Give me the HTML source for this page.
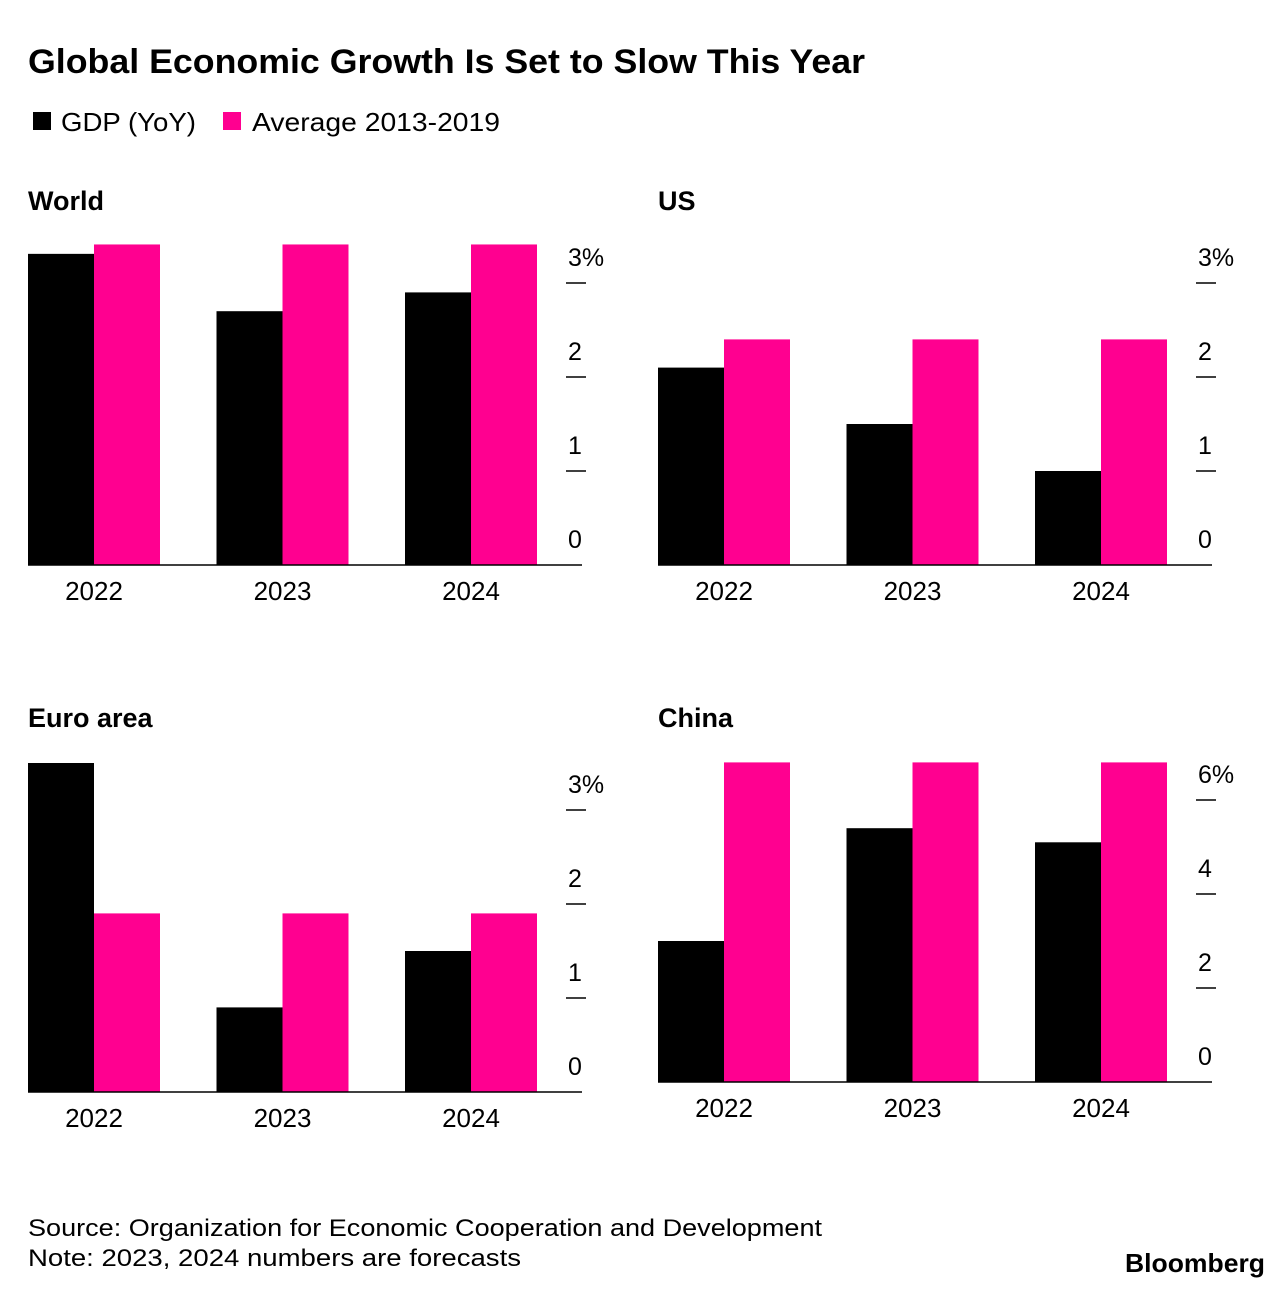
<!DOCTYPE html>
<html><head><meta charset="utf-8">
<style>
body{margin:0;background:#fff;}
svg{display:block;font-family:"Liberation Sans",sans-serif;}
</style></head>
<body>
<svg id="chart" width="1288" height="1296" viewBox="0 0 1288 1296">
<text x="28" y="73" font-size="34" font-weight="bold" fill="#000" textLength="837" lengthAdjust="spacingAndGlyphs">Global Economic Growth Is Set to Slow This Year</text>
<rect x="33" y="112" width="18" height="18" fill="#000"/>
<text x="61" y="131" font-size="26" textLength="135" lengthAdjust="spacingAndGlyphs">GDP (YoY)</text>
<rect x="223" y="112" width="18" height="18" fill="#ff0090"/>
<text x="252" y="131" font-size="26" textLength="248" lengthAdjust="spacingAndGlyphs">Average 2013-2019</text>
<text x="28" y="1236" font-size="24" textLength="794" lengthAdjust="spacingAndGlyphs">Source: Organization for Economic Cooperation and Development</text>
<text x="28" y="1266" font-size="24" textLength="493" lengthAdjust="spacingAndGlyphs">Note: 2023, 2024 numbers are forecasts</text>
<text x="1125" y="1272" font-size="26" font-weight="bold" textLength="140" lengthAdjust="spacingAndGlyphs">Bloomberg</text>
<g id="panels"></g>
</svg>
<script>
const years = ["2022","2023","2024"];
const worldGdp = [3.31, 2.70, 2.90];
const worldAvg = [3.41, 3.41, 3.41];
const usGdp = [2.1, 1.5, 1.0];
const usAvg = [2.4, 2.4, 2.4];
const euroGdp = [3.5, 0.9, 1.5];
const euroAvg = [1.9, 1.9, 1.9];
const chinaGdp = [3.0, 5.4, 5.1];
const chinaAvg = [6.8, 6.8, 6.8];
const ticks3 = [0, 1, 2, 3];
const ticks6 = [0, 2, 4, 6];
const tickLabels3 = ["0", "1", "2", "3%"];
const tickLabels6 = ["0", "2", "4", "6%"];

const NS = "http://www.w3.org/2000/svg";
const root = document.getElementById("panels");
function mk(tag, attrs, parent){
  const e = document.createElementNS(NS, tag);
  for (const k in attrs) e.setAttribute(k, attrs[k]);
  parent.appendChild(e);
  return e;
}
function panel(key, title, ox, titleY, base, pxPer, gdp, avg, ticks, tickLabels){
  const g = mk("g", {}, root);
  
  
  const t = mk("text", {x: ox, y: titleY, "font-size": 27, "font-weight": "bold"}, g);
  t.textContent = title;
  
  
  const y = v => base - v * pxPer;
  const xGroup = i => ox + i * 188.5;
  const bw = 66;
  years.forEach((yr, i) => {
    const x0 = xGroup(i);
    const b1 = mk("rect", {x: x0, y: y(gdp[i]), width: bw, height: base - y(gdp[i]), fill: "#000"}, g);
    
    
    const b2 = mk("rect", {x: x0 + bw, y: y(avg[i]), width: bw, height: base - y(avg[i]), fill: "#ff0090"}, g);
    
    
    const lb = mk("text", {x: x0 + bw, y: base + 35, "font-size": 26, "text-anchor": "middle"}, g);
    lb.textContent = yr;
    
    
  });
  const ax = mk("line", {x1: ox, x2: ox + 554, y1: base, y2: base, stroke: "#000", "stroke-width": 1.5}, g);
  
  
  ticks.forEach((v, i) => {
    if (v !== 0) {
      const tl = mk("line", {x1: ox + 538, x2: ox + 558, y1: y(v), y2: y(v), stroke: "#000", "stroke-width": 1.5}, g);
      
      
    }
    const tx = mk("text", {x: ox + 540, y: y(v) - 17, "font-size": 25}, g);
    tx.textContent = tickLabels[i];
    
    
  });
}
panel("world", "World", 28, 210, 565, 94, worldGdp, worldAvg, ticks3, tickLabels3);
panel("us", "US", 658, 210, 565, 94, usGdp, usAvg, ticks3, tickLabels3);
panel("euro", "Euro area", 28, 727, 1092, 94, euroGdp, euroAvg, ticks3, tickLabels3);
panel("china", "China", 658, 727, 1082, 47, chinaGdp, chinaAvg, ticks6, tickLabels6);
</script>
</body></html>
